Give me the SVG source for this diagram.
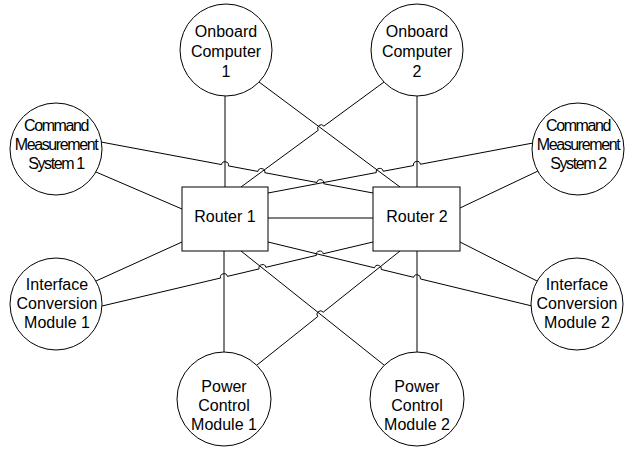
<svg xmlns="http://www.w3.org/2000/svg" width="632" height="449" viewBox="0 0 632 449">
  <style>
    .node { fill: #fff; stroke: #000; stroke-width: 1; }
    .lbl { font-family: "Liberation Sans", Arial, sans-serif; font-size: 16px; fill: #000; text-anchor: middle; }
    .cms { letter-spacing: -1.4px; }
    .wire { fill: none; stroke: #000; stroke-width: 1; }
  </style>
  <rect width="632" height="449" fill="#fff"/>
  <!-- connectors; small arcs are line jumps where wires cross -->
  <g id="connectors">
    <path class="wire" d="M225,96 V187"/>
    <path class="wire" d="M417,96 V187"/>
    <path class="wire" d="M259,82 L400,187"/>
    <path class="wire" d="M241,187 L318.24,130.28 A3.5,3.5 0 0 1 323.88,126.14 L384,82"/>
    <path class="wire" d="M101,142 L221.56,164.60 A3.5,3.5 0 0 1 228.44,165.90 L257.90,171.42 A3.5,3.5 0 0 1 264.78,172.71 L316.90,182.49 A3.5,3.5 0 0 1 323.78,183.78 L373,193"/>
    <path class="wire" d="M96,172 L182,209"/>
    <path class="wire" d="M268,193 L376.31,172.57 A3.5,3.5 0 0 1 383.19,171.27 L413.56,165.54 A3.5,3.5 0 0 1 420.44,164.24 L533,143"/>
    <path class="wire" d="M460,208 L538,171"/>
    <path class="wire" d="M268,218 H373"/>
    <path class="wire" d="M96,281 L182,242"/>
    <path class="wire" d="M102,306 L220.59,278.00 A3.5,3.5 0 0 1 227.41,276.39 L259.05,268.91 A3.5,3.5 0 0 1 265.87,267.31 L316.40,255.36 A3.5,3.5 0 0 1 323.22,253.76 L373,242"/>
    <path class="wire" d="M460,242 L537,281"/>
    <path class="wire" d="M268,242 L374.48,267.82 A3.5,3.5 0 0 1 381.28,269.46 L413.60,277.30 A3.5,3.5 0 0 1 420.40,278.94 L532,306"/>
    <path class="wire" d="M224,251 V352"/>
    <path class="wire" d="M417,251 V352"/>
    <path class="wire" d="M241,251 L384,365"/>
    <path class="wire" d="M257,365 L317.76,316.56 A3.5,3.5 0 0 1 323.24,312.20 L400,251"/>
  </g>
  <g id="oc1">
    <circle class="node" cx="226" cy="50" r="46"/>
    <text class="lbl" x="226" y="37">Onboard</text>
    <text class="lbl" x="226" y="57">Computer</text>
    <text class="lbl" x="226" y="77">1</text>
  </g>
  <g id="oc2">
    <circle class="node" cx="417" cy="50" r="46"/>
    <text class="lbl" x="417" y="37">Onboard</text>
    <text class="lbl" x="417" y="57">Computer</text>
    <text class="lbl" x="417" y="77">2</text>
  </g>
  <g id="cms1">
    <circle class="node" cx="56" cy="149" r="46"/>
    <text class="lbl cms" x="56" y="131">Command</text>
    <text class="lbl cms" x="56" y="150">Measurement</text>
    <text class="lbl cms" x="56" y="169">System 1</text>
  </g>
  <g id="cms2">
    <circle class="node" cx="578" cy="149" r="46"/>
    <text class="lbl cms" x="578" y="131">Command</text>
    <text class="lbl cms" x="578" y="150">Measurement</text>
    <text class="lbl cms" x="578" y="169">System 2</text>
  </g>
  <g id="router1">
    <rect class="node" x="182" y="187" width="86" height="64"/>
    <text class="lbl" x="225" y="222">Router 1</text>
  </g>
  <g id="router2">
    <rect class="node" x="373" y="187" width="87" height="64"/>
    <text class="lbl" x="417" y="222">Router 2</text>
  </g>
  <g id="icm1">
    <circle class="node" cx="56" cy="304" r="46"/>
    <text class="lbl" x="57" y="290">Interface</text>
    <text class="lbl" x="57" y="309">Conversion</text>
    <text class="lbl" x="57" y="328">Module 1</text>
  </g>
  <g id="icm2">
    <circle class="node" cx="577" cy="304" r="46"/>
    <text class="lbl" x="577" y="290">Interface</text>
    <text class="lbl" x="577" y="309">Conversion</text>
    <text class="lbl" x="577" y="328">Module 2</text>
  </g>
  <g id="pcm1">
    <circle class="node" cx="224" cy="399" r="47"/>
    <text class="lbl" x="224" y="392">Power</text>
    <text class="lbl" x="224" y="411">Control</text>
    <text class="lbl" x="224" y="430">Module 1</text>
  </g>
  <g id="pcm2">
    <circle class="node" cx="417" cy="399" r="47"/>
    <text class="lbl" x="417" y="392">Power</text>
    <text class="lbl" x="417" y="411">Control</text>
    <text class="lbl" x="417" y="430">Module 2</text>
  </g>
</svg>
